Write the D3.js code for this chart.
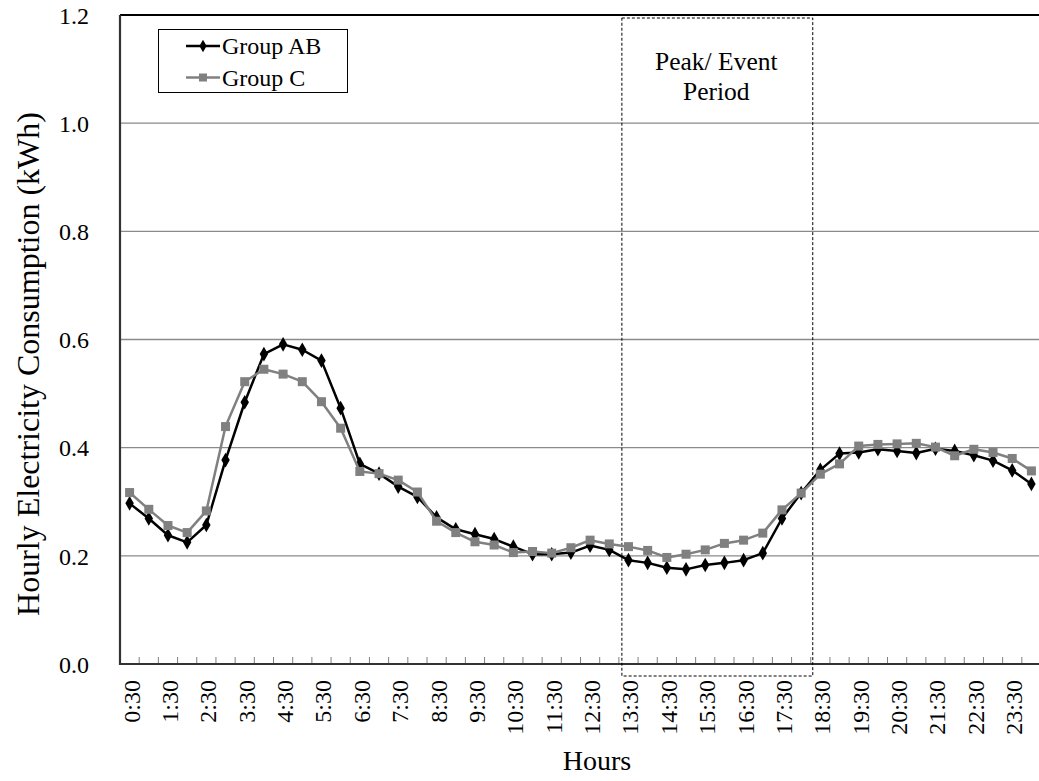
<!DOCTYPE html>
<html>
<head>
<meta charset="utf-8">
<script src="https://cdn.jsdelivr.net/npm/d3@7"></script>
<style>
  html, body { margin: 0; padding: 0; background: #fff; }
  svg { display: block; font-family: "Liberation Serif", "Times New Roman", serif; }
</style>
</head>
<body>
<svg id="chart" width="1039" height="781"></svg>
<script>
const categories = ["0:30","1:00","1:30","2:00","2:30","3:00","3:30","4:00","4:30","5:00","5:30","6:00",
  "6:30","7:00","7:30","8:00","8:30","9:00","9:30","10:00","10:30","11:00","11:30","12:00",
  "12:30","13:00","13:30","14:00","14:30","15:00","15:30","16:00","16:30","17:00","17:30","18:00",
  "18:30","19:00","19:30","20:00","20:30","21:00","21:30","22:00","22:30","23:00","23:30","24:00"];

const groupAB = [0.297,0.269,0.238,0.225,0.257,0.377,0.484,0.573,0.591,0.581,0.561,0.473,
  0.370,0.352,0.328,0.309,0.271,0.249,0.240,0.231,0.217,0.203,0.203,0.206,
  0.219,0.211,0.192,0.187,0.178,0.175,0.183,0.187,0.192,0.205,0.269,0.316,
  0.359,0.389,0.391,0.397,0.394,0.390,0.398,0.394,0.386,0.376,0.358,0.333];

const groupC = [0.317,0.286,0.256,0.243,0.283,0.439,0.522,0.545,0.536,0.522,0.485,0.436,
  0.356,0.352,0.340,0.318,0.264,0.243,0.226,0.220,0.206,0.208,0.205,0.215,
  0.229,0.222,0.217,0.210,0.197,0.203,0.211,0.223,0.229,0.242,0.285,0.316,
  0.351,0.370,0.403,0.406,0.407,0.408,0.401,0.385,0.397,0.391,0.380,0.357];

const xTickLabels = ["0:30","1:30","2:30","3:30","4:30","5:30","6:30","7:30","8:30","9:30","10:30","11:30",
  "12:30","13:30","14:30","15:30","16:30","17:30","18:30","19:30","20:30","21:30","22:30","23:30"];
const yTicks = [0.0, 0.2, 0.4, 0.6, 0.8, 1.0, 1.2];
const peakPeriod = ["13:30", "18:30"];
const seriesNames = ["Group AB", "Group C"];

const svg = d3.select("#chart");
const pL = 120, pR = 1041, pT = 15, pB = 664;

const x = d3.scaleBand().domain(categories).range([pL, pR]).paddingInner(0).paddingOuter(0);
const bw = x.bandwidth();
const cx = d => x(d) + bw / 2;
const y = d3.scaleLinear().domain([0, 1.2]).range([pB, pT]);

// gridlines
svg.append("g").selectAll("line").data(yTicks.filter(v => v > 0 && v < 1.2)).join("line")
  .attr("x1", pL).attr("x2", pR)
  .attr("y1", d => y(d)).attr("y2", d => y(d))
  .attr("stroke", "#8a8a8a").attr("stroke-width", 1.3);

// top border
svg.append("line").attr("x1", pL).attr("x2", pR).attr("y1", y(1.2)).attr("y2", y(1.2))
  .attr("stroke", "#000").attr("stroke-width", 2);

// x axis ticks (between categories, pointing up)
const xAxis = d3.axisBottom(x).tickSizeInner(-7).tickSizeOuter(0).tickFormat("");
const gx = svg.append("g").attr("transform", `translate(0,${pB})`).call(xAxis);
gx.select(".domain").remove();
gx.selectAll(".tick").attr("transform", d => `translate(${x(d)},0)`);
gx.selectAll(".tick line").attr("stroke", "#808080").attr("stroke-width", 1);
gx.selectAll(".tick").filter(d => d === categories[0]).remove();

// x labels
svg.append("g").selectAll("text").data(xTickLabels).join("text")
  .attr("transform", d => `translate(${cx(d) + 2},${pB + 16}) rotate(-90)`)
  .attr("text-anchor", "end").attr("dominant-baseline", "central")
  .attr("font-size", 24).attr("fill", "#000").text(d => d);

// y axis labels
const yAxis = d3.axisLeft(y).tickValues(yTicks).tickSize(0).tickFormat(d3.format(".1f"));
const gy = svg.append("g").attr("transform", `translate(${pL - 31},0)`).call(yAxis);
gy.select(".domain").remove();
gy.selectAll("text").attr("font-size", 24).attr("font-family", "Liberation Serif")
  .attr("fill", "#000").attr("x", 0).attr("dy", "0.34em");

// axis lines
svg.append("line").attr("x1", pL).attr("x2", pL).attr("y1", pT).attr("y2", pB + 1)
  .attr("stroke", "#333").attr("stroke-width", 2.2);
svg.append("line").attr("x1", pL - 1).attr("x2", pR).attr("y1", pB).attr("y2", pB)
  .attr("stroke", "#333").attr("stroke-width", 2.2);

// peak box
const px1 = x(peakPeriod[0]) + 3, px2 = x(peakPeriod[1]) + 2;
svg.append("rect").attr("x", px1).attr("y", pT + 3).attr("width", px2 - px1).attr("height", pB + 12 - (pT + 3))
  .attr("fill", "none").attr("stroke", "#000").attr("stroke-width", 1).attr("stroke-dasharray", "3,2");
const pt = svg.append("text").attr("text-anchor", "middle").attr("font-size", 25.5).attr("fill", "#000");
pt.append("tspan").attr("x", (px1 + px2) / 2 - 1).attr("y", 70).text("Peak/ Event");
pt.append("tspan").attr("x", (px1 + px2) / 2 - 1).attr("y", 100).text("Period");

// lines
const line = d3.line().x((d, i) => cx(categories[i])).y(d => y(d));

svg.append("path").datum(groupAB).attr("d", line).attr("fill", "none")
  .attr("stroke", "#000").attr("stroke-width", 2.5).attr("stroke-linejoin", "round");
svg.append("g").selectAll("path").data(groupAB).join("path")
  .attr("transform", (d, i) => `translate(${cx(categories[i])},${y(d)})`)
  .attr("d", d3.symbol().type(d3.symbolDiamond).size(62)).attr("fill", "#000");

svg.append("path").datum(groupC).attr("d", line).attr("fill", "none")
  .attr("stroke", "#808080").attr("stroke-width", 2.5).attr("stroke-linejoin", "round");
svg.append("g").selectAll("rect").data(groupC).join("rect")
  .attr("x", (d, i) => cx(categories[i]) - 4.5).attr("y", d => y(d) - 4.5)
  .attr("width", 9).attr("height", 9).attr("fill", "#808080");

// legend
const lg = svg.append("g");
lg.append("rect").attr("x", 158.5).attr("y", 29.5).attr("width", 189).attr("height", 63)
  .attr("fill", "#fff").attr("stroke", "#000").attr("stroke-width", 1);
const rows = [{name: seriesNames[0], yy: 46, color: "#000", mark: "diamond"},
              {name: seriesNames[1], yy: 77.5, color: "#808080", mark: "square"}];
rows.forEach(r => {
  lg.append("line").attr("x1", 186).attr("x2", 220).attr("y1", r.yy).attr("y2", r.yy)
    .attr("stroke", r.color).attr("stroke-width", 2.5);
  if (r.mark === "diamond") {
    lg.append("path").attr("transform", `translate(203,${r.yy})`)
      .attr("d", d3.symbol().type(d3.symbolDiamond).size(45)).attr("fill", r.color);
  } else {
    lg.append("rect").attr("x", 199).attr("y", r.yy - 4).attr("width", 8).attr("height", 8).attr("fill", r.color);
  }
  lg.append("text").attr("x", 222).attr("y", r.yy).attr("dominant-baseline", "central")
    .attr("font-size", 24).attr("fill", "#000").text(r.name);
});

// axis titles
svg.append("text").attr("x", 597).attr("y", 770).attr("text-anchor", "middle")
  .attr("font-size", 28).attr("fill", "#000").text("Hours");
svg.append("text").attr("transform", `translate(28,364) rotate(-90)`)
  .attr("text-anchor", "middle").attr("dominant-baseline", "central")
  .attr("font-size", 32).attr("fill", "#000").text("Hourly Electricity Consumption (kWh)");
</script>
</body>
</html>
